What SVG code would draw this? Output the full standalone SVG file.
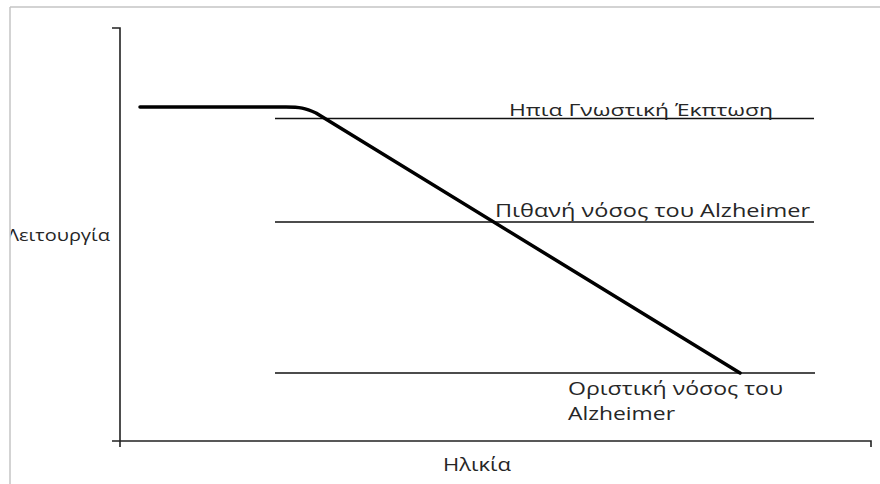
<svg xmlns="http://www.w3.org/2000/svg" width="880" height="484" viewBox="0 0 880 484">
  <style>
    .frame { stroke: #c4c4c4; stroke-width: 1.5; fill: none; }
    .axis { stroke: #222; stroke-width: 1.6; fill: none; }
    .level { stroke: #111; stroke-width: 1.5; fill: none; }
    .curve { stroke: #000; stroke-width: 3.5; fill: none; stroke-linecap: round; stroke-linejoin: round; }
    .lbl { font-family: "Open Sans", "Noto Sans", "DejaVu Sans", sans-serif; font-size: 18px; fill: #262626; }
  </style>
  <defs>
    <clipPath id="inside">
      <rect x="10.8" y="7" width="870" height="477"/>
    </clipPath>
  </defs>
  <rect x="0" y="0" width="880" height="484" fill="#ffffff"/>
  <g id="frame">
    <line class="frame" x1="10" y1="7" x2="880" y2="7"/>
    <line class="frame" x1="10" y1="7" x2="10" y2="484"/>
  </g>
  <g id="axes">
    <path class="axis" d="M112,28 L120,28 L120,447"/>
    <path class="axis" d="M112,441 L871,441 L871,447"/>
    <g clip-path="url(#inside)">
      <text class="lbl" x="7" y="241" style="font-size:16px" textLength="103" lengthAdjust="spacingAndGlyphs">Λειτουργία</text>
    </g>
    <text class="lbl" x="443" y="471" style="font-size:18.5px" textLength="68" lengthAdjust="spacingAndGlyphs">Ηλικία</text>
  </g>
  <g id="level-mci">
    <line class="level" x1="275" y1="118.5" x2="814" y2="118.5"/>
    <text class="lbl" x="509" y="116" style="font-size:17px" textLength="264" lengthAdjust="spacingAndGlyphs">Ηπια Γνωστική Έκπτωση</text>
  </g>
  <g id="level-probable">
    <line class="level" x1="275" y1="222" x2="814" y2="222"/>
    <text class="lbl" x="495" y="217" textLength="315" lengthAdjust="spacingAndGlyphs">Πιθανή νόσος του Alzheimer</text>
  </g>
  <g id="level-definite">
    <line class="level" x1="275" y1="373" x2="815" y2="373"/>
    <text class="lbl" x="568" y="395" textLength="215" lengthAdjust="spacingAndGlyphs">Οριστική νόσος του</text>
    <text class="lbl" x="568" y="420" textLength="107" lengthAdjust="spacingAndGlyphs">Alzheimer</text>
  </g>
  <g id="connectors">
    <path class="curve" d="M140,107 L286,107 C300,107 305,108 316,113 L740,373"/>
  </g>
</svg>
